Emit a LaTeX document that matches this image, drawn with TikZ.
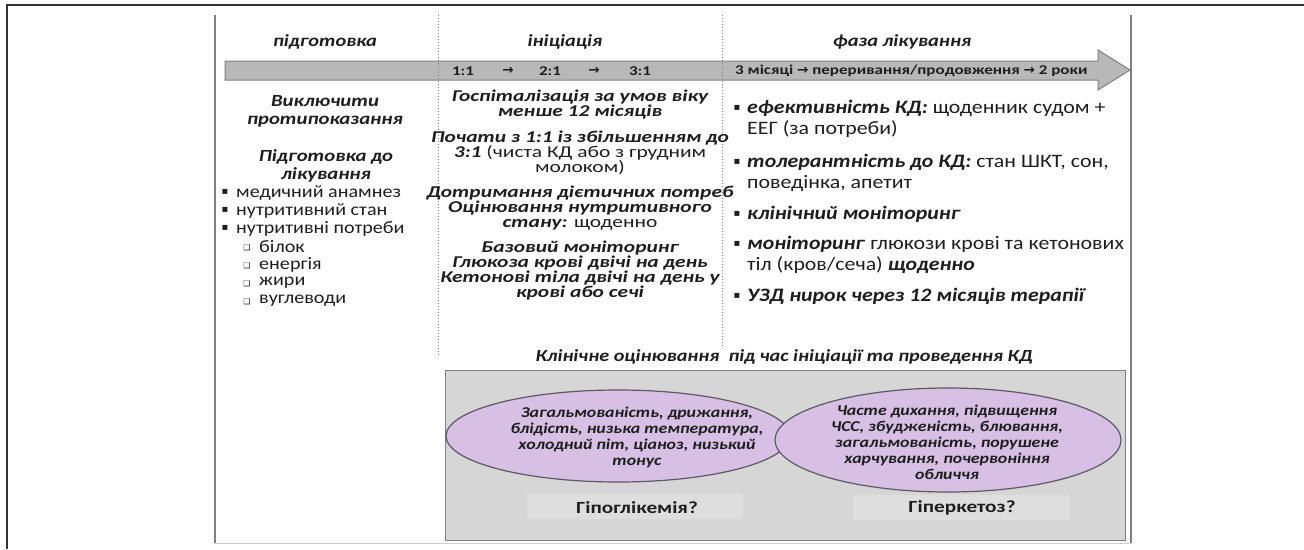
\documentclass[tikz,border=0pt]{standalone}
\usepackage{fontspec}
\setmainfont[FakeStretch=1.2]{Carlito}
\newfontfamily\hdrfont[FakeStretch=1.2]{Carlito}
\newfontfamily\tickfont[FakeStretch=1.26]{Carlito}
\newfontfamily\prepfont[FakeStretch=1.15]{Carlito}
\newfontfamily\prepBIfont[FakeStretch=1.22]{Carlito}
\newfontfamily\initfont[FakeStretch=1.3]{Carlito}
\newfontfamily\phasefont[FakeStretch=1.15]{Carlito}
\newfontfamily\signfont[FakeStretch=1.19]{Carlito}
\newfontfamily\labelfont[FakeStretch=1.25]{Carlito}
\newfontfamily\symfont{DejaVu Sans}
\usetikzlibrary{positioning,calc,shapes.geometric}
\definecolor{framegray}{HTML}{333333}
\definecolor{linegray}{HTML}{808080}
\definecolor{bandgray}{HTML}{B8B8B8}
\definecolor{boxgray}{HTML}{D6D6D6}
\definecolor{labelgray}{HTML}{DEDEDE}
\definecolor{lavender}{HTML}{D7C0E3}
\definecolor{ellline}{HTML}{5E5866}
\definecolor{ink}{HTML}{1E1E1E}

\begin{document}
\begin{tikzpicture}[x=1pt, y=-1pt,
  every node/.style={inner sep=0pt, text=ink},
  hdr/.style={font=\hdrfont\fontsize{17}{20}\selectfont\bfseries\itshape},
  tick/.style={font=\tickfont\fontsize{13.5}{15}\selectfont\bfseries},
  prephead/.style={align=center, font=\prepBIfont\fontsize{17}{18}\selectfont\bfseries\itshape},
  prep/.style={font=\prepfont\fontsize{17.5}{18}\selectfont},
  init/.style={align=center, font=\initfont\fontsize{16.5}{15}\selectfont\bfseries\itshape},
  phase/.style={align=left, font=\phasefont\fontsize{19}{21}\selectfont},
  sign/.style={align=center, font=\signfont\fontsize{15}{16}\selectfont\bfseries\itshape},
  answer/.style={font=\labelfont\fontsize{17}{19}\selectfont\bfseries},
  dot/.style={font=\symfont\fontsize{10}{10}\selectfont},
  ellbox/.style={ellipse, draw=ellline, line width=1.2pt, fill=lavender}]
  \useasboundingbox (0,0) rectangle (1304,549);

  % Frame and slide edges
  \draw[framegray, line width=1.5pt] (7,549) -- (7,5) -- (1304,5);
  \draw[linegray, line width=1.5pt] (215,15) -- (215,543);
  \draw[linegray, line width=1.5pt] (1131,15) -- (1131,543);
  \draw[linegray!40] (215,543) -- (1131,543);

  % Time line arrow
  \draw[linegray, fill=bandgray, line width=1pt]
    (225,61) -- (1098,61) -- (1098,50) -- (1130,70) -- (1098,90) -- (1098,80) -- (225,80) -- cycle;

  % Phase separators
  \draw[linegray, dotted, line width=1pt] (438,15) -- (438,355);
  \draw[linegray, dotted, line width=1pt] (722,15) -- (722,347);

  % Phase headings
  \node[hdr] (hprep) at (325,42) {підготовка};
  \node[hdr] (hinit) at (565,42) {ініціація};
  \node[hdr] (htreat) at (902,42) {фаза лікування};

  % Ratio steps on the arrow
  \foreach \x/\t in {463/1:1, 550/2:1, 640/3:1}
    \node[tick] (r\x) at (\x,71) {\t};
  \foreach \x in {508,594}
    \node[tick] (a\x) at (\x,71) {{\symfont\bfseries →}};
  \node[tick, anchor=west] (tline) at (735,71)
    {3 місяці {\symfont\bfseries →}\ переривання/продовження {\symfont\bfseries →}\ 2 роки};

  % Preparation column
  \node[prephead] (excl) at (325,111) {Виключити\\протипоказання};
  \node[prephead] (ready) at (326,166) {Підготовка до\\лікування};
  \foreach \t [count=\i] in {медичний анамнез, нутритивний стан, нутритивні потреби} {
    \node[dot] (pb\i) at (225,{174+18*\i}) {▪};
    \node[prep, anchor=west] (pt\i) at (236,{175+18*\i}) {\t};
  }
  \foreach \t [count=\i] in {білок, енергія, жири, вуглеводи} {
    \node[dot, font=\symfont\fontsize{8}{8}\selectfont] (sb\i) at (247,{230+18*\i}) {❑};
    \node[prep, anchor=west] (st\i) at (259,{229+18*\i}) {\t};
  }

  % Initiation column
  \node[init] (i1) at (580,105) {Госпіталізація за умов віку\\менше 12 місяців};
  \node[init] (i2) at (580,153) {Почати з 1:1 із збільшенням до\\3:1 {\mdseries\upshape (чиста КД або з грудним}\\{\mdseries\upshape молоком)}};
  \node[init] (i3) at (580,208) {Дотримання дієтичних потреб\\Оцінювання нутритивного\\стану: {\mdseries\upshape щоденно}};
  \node[init] (i4) at (580,271) {Базовий моніторинг\\Глюкоза крові двічі на день\\Кетонові тіла двічі на день у\\крові або сечі};

  % Treatment column
  \foreach \y/\n in {108/1, 162/2, 214/3, 244/4, 296/5}
    \node[dot] (tb\n) at (737,\y) {▪};
  \node[phase, anchor=north west] (t1) at (747,100)
    {\textbf{\textit{ефективність КД:}} щоденник судом +\\ЕЕГ (за потреби)};
  \node[phase, anchor=north west] (t2) at (747,154)
    {\textbf{\textit{толерантність до КД:}} стан ШКТ, сон,\\поведінка, апетит};
  \node[phase, anchor=north west] (t3) at (747,206)
    {\textbf{\textit{клінічний моніторинг}}};
  \node[phase, anchor=north west] (t4) at (747,236)
    {\textbf{\textit{моніторинг}} глюкози крові та кетонових\\тіл (кров/сеча) \textbf{\textit{щоденно}}};
  \node[phase, anchor=north west] (t5) at (747,288)
    {\textbf{\textit{УЗД нирок через 12 місяців терапії}}};

  % Clinical assessment panel
  \node[sign, font=\signfont\fontsize{17}{19}\selectfont\bfseries\itshape] (ctitle) at (784,357)
    {Клінічне оцінювання\ \ під час ініціації та проведення КД};
  \draw[linegray, fill=boxgray, line width=1pt] (445,370) rectangle (1125,540);
  \fill[labelgray] (527,494) rectangle (743,519);
  \fill[labelgray] (853,495) rectangle (1070,520);
  \node[ellbox, minimum width=344pt, minimum height=92pt] (hypo) at (618,436) {};
  \node[ellbox, minimum width=346pt, minimum height=104pt] (hyper) at (948,440) {};
  \node[sign] (hypotext) at (637,437)
    {Загальмованість, дрижання,\\блідість, низька температура,\\холодний піт, ціаноз, низький\\тонус};
  \node[sign] (hypertext) at (947,442)
    {Часте дихання, підвищення\\ЧСС, збудженість, блювання,\\загальмованість, порушене\\харчування, почервоніння\\обличчя};
  \node[answer] (lhypo) at (637,508) {Гіпоглікемія?};
  \node[answer] (lhyper) at (962,508) {Гіперкетоз?};
\end{tikzpicture}
\end{document}
